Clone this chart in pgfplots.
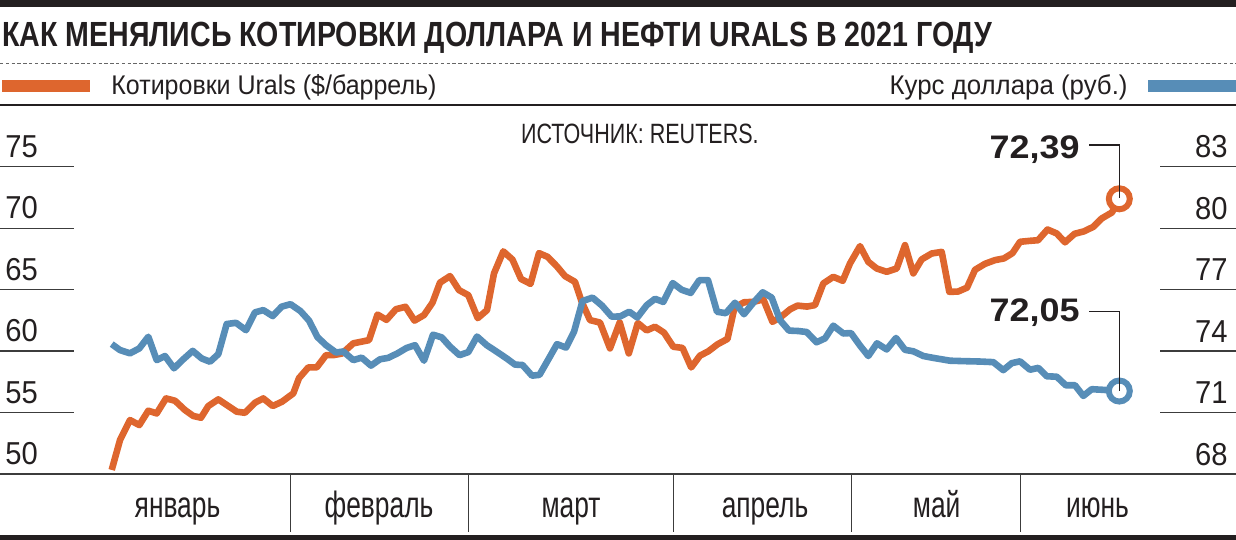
\documentclass[border=0pt]{standalone}
\usepackage{fontspec}
\setmainfont{Liberation Sans}
\usepackage{graphicx}
\usepackage{pgfplots}
\pgfplotsset{compat=1.18}

\definecolor{oil}{RGB}{222,102,46}
\definecolor{usd}{RGB}{87,141,183}
\definecolor{ink}{RGB}{35,31,32}
\definecolor{rule}{RGB}{60,60,60}

% text squeezed to a given width, natural height kept
\newcommand\fitw[3]{\resizebox{#1}{\height}{\fontsize{#2}{#2}\selectfont #3}}
\newcommand\digits[1]{\scalebox{0.92}[1]{\fontsize{15.85pt}{15.85pt}\selectfont #1}}
\newcommand\mlab[1]{\scalebox{0.72}[1]{\fontsize{18.3pt}{18.3pt}\selectfont #1}}

\pgfplotsset{
  base/.style={
    at={(0pt,-237pt)}, anchor=south west,
    width=618pt, height=153.65pt, scale only axis,
    xmin=0, xmax=1236,
    axis line style={draw=none},
    xtick=\empty,
    tick align=inside,
    tick style={draw=rule, line width=0.65pt},
    /pgf/number format/assume math mode=true,
    clip=false,
  },
}

\begin{document}
\begin{tikzpicture}
\useasboundingbox (0,0) rectangle (618pt,-270pt);

% header, 1 unit = 1 px of the reference
\begin{scope}[x=0.5pt,y=-0.5pt]
\fill[ink] (0,0) rectangle (1236,6.7);
\node[anchor=base west, inner sep=0pt, text=ink] at (2,46.7)
  {\fitw{495pt}{17.46pt}{\bfseries КАК МЕНЯЛИСЬ КОТИРОВКИ ДОЛЛАРА И НЕФТИ URALS В 2021 ГОДУ}};
\draw[black!60, line width=0.5pt, dash pattern=on 1.7pt off 1.2pt] (0,63.3) -- (1236,63.3);
\fill[oil] (2,80) rectangle (90,92);
\node[anchor=base west, inner sep=0pt, text=ink] at (111,94.3)
  {\fitw{162.5pt}{13.5pt}{Котировки Urals (\$/баррель)}};
\node[anchor=base east, inner sep=0pt, text=ink] at (1128,94.3)
  {\fitw{119pt}{13.5pt}{Курс доллара (руб.)}};
\fill[usd] (1148,80) rectangle (1236,92);
\draw[ink, line width=1pt] (0,105) -- (1236,105);
\node[anchor=base west, inner sep=0pt, text=ink] at (520.7,143.3)
  {\fitw{118.8pt}{13.97pt}{ИСТОЧНИК: REUTERS.}};
\fill[ink] (0,535) rectangle (1236,540);
\end{scope}

% Urals, $/barrel (left scale)
\begin{axis}[base,
  ymin=50, ymax=75, ytick={50,55,...,75}, ytick pos=left, yticklabel pos=left,
  major tick length=37pt,
  yticklabel={\digits{\pgfmathprintnumber{\tick}}},
  yticklabel style={anchor=base west, inner sep=0pt, xshift=2.5pt, yshift=4.75pt, text=ink}]
\addplot[oil, line width=3.3pt, line join=round] coordinates {
(111.7,50.33) (120,52.76) (130,54.39) (139.3,53.98) (148.3,55.15) (156.7,54.93)
(166,56.15) (175,55.96) (185,55.20) (193.3,54.72) (201,54.58) (208.3,55.53)
(218.3,56.07) (228.3,55.53) (236.7,55.07) (245,54.98) (255,55.80) (263.3,56.15)
(272.7,55.53) (282,55.88) (293.3,56.56) (299,57.80) (308.3,58.67) (316.7,58.67)
(326,59.67) (333.3,59.67) (342,59.80) (353.3,60.63) (369,60.89) (377.5,62.97)
(386.5,62.54) (396,63.41) (405.5,63.60) (414.5,62.48) (424,62.93) (432.5,63.94)
(440,65.57) (450,66.10) (459,64.96) (468.3,64.55) (477.7,62.68) (487,63.33)
(494,66.32) (503.3,68.11) (512.5,67.44) (521,65.87) (530.5,65.47) (539,67.97)
(547.5,67.67) (556.7,66.91) (565,66.10) (575,65.63) (581.7,64.01) (590,62.52)
(600,62.32) (610,60.22) (619.7,62.33) (628.8,59.81) (637.8,62.28) (646.7,61.68)
(655,61.98) (664,61.50) (673.3,60.35) (682.5,60.26) (691.2,58.67) (700,59.63)
(708.3,59.98) (717.5,60.55) (727.5,60.99) (734.5,63.54) (744,63.97) (754,64.01)
(763.3,64.21) (772.5,62.38) (781.5,62.82) (790,63.39) (797.5,63.70) (807,63.62)
(815,63.74) (823.3,65.50) (833.3,66.04) (842.7,65.72) (850,67.13) (860,68.54)
(868.3,67.26) (876.7,66.72) (886.7,66.45) (896.7,66.72) (905,68.62) (913.3,66.32)
(921.7,67.46) (931.7,67.94) (941.7,68.07) (949.3,64.82) (958,64.84) (967,65.16)
(975,66.61) (985,67.10) (995,67.40) (1004,67.54) (1012.5,67.97) (1020,68.89)
(1030,68.97) (1038,69.02) (1047.5,69.89) (1056.7,69.57) (1065,68.85) (1074.5,69.54)
(1084,69.74) (1093.3,70.11) (1101.7,70.79) (1112,71.28) (1119.3,72.39)
};
\addplot[only marks, mark=*, mark size=5.25pt,
  mark options={draw=oil, fill=white, line width=3pt}] coordinates {(1119.3,72.39)};
\end{axis}

% USD, rub. (right scale)
\begin{axis}[base,
  ymin=68, ymax=83, ytick={68,71,...,83}, ytick pos=right, yticklabel pos=right,
  major tick length=38pt,
  yticklabel={\digits{\pgfmathprintnumber{\tick}}},
  yticklabel style={anchor=base east, inner sep=0pt, xshift=-4pt, yshift=4.5pt, text=ink}]
\addplot[usd, line width=3.3pt, line join=round] coordinates {
(111.7,74.34) (120,74.05) (130,73.89) (139.3,74.13) (148.3,74.70) (156.7,73.56)
(165,73.76) (174,73.16) (183.3,73.60) (192.7,74.01) (201.7,73.64) (210,73.48)
(218.3,73.85) (226.7,75.32) (236,75.38) (246,75.02) (255,75.89) (263.3,76.00)
(272.7,75.71) (281.7,76.17) (290.5,76.29) (300.5,75.95) (309,75.49) (317.5,74.68)
(326,74.29) (336,73.93) (343.3,73.98) (353.3,73.56) (361.7,73.68) (371,73.29)
(380,73.60) (388.3,73.67) (397.5,73.89) (406.5,74.15) (415,74.29) (424,73.53)
(433,74.80) (441.7,74.67) (450,74.22) (459.5,73.80) (468.3,73.95) (477,74.71)
(486.7,74.29) (496.7,73.97) (506.7,73.64) (515,73.34) (522.5,73.32) (532,72.80)
(539.5,72.84) (548.3,73.59) (557,74.34) (566,74.17) (574,74.94) (582.5,76.44)
(592.5,76.61) (602,76.22) (611.7,75.68) (620,75.69) (629.3,75.92) (637.3,75.64)
(646.7,76.24) (655,76.55) (663.3,76.40) (672.7,77.32) (681.7,76.99) (690.7,76.84)
(699.3,77.46) (708,77.46) (717,75.92) (725.8,75.85) (735,76.36) (744,75.80)
(753.3,76.36) (762.7,76.87) (771.7,76.61) (780,75.51) (789,75.00) (798.3,74.98)
(806.7,74.93) (816.5,74.43) (825,74.62) (833.3,75.24) (843.3,74.86) (851,74.88)
(860,74.27) (868.3,73.76) (877,74.38) (886.7,74.08) (896,74.64) (905,74.06)
(913.3,73.99) (923.3,73.76) (933,73.67) (950,73.53) (963,73.51) (980,73.49)
(993.3,73.46) (1003.3,73.07) (1011.7,73.41) (1020,73.50) (1030,73.09) (1038.3,73.18)
(1046.7,72.77) (1056.7,72.75) (1065.8,72.33) (1075,72.33) (1083.3,71.81) (1091.7,72.14)
(1102.5,72.11) (1111.7,72.08) (1119.3,72.05)
};
\addplot[only marks, mark=*, mark size=5.25pt,
  mark options={draw=usd, fill=white, line width=3pt}] coordinates {(1119.3,72.05)};
\end{axis}

% month strip under the chart
\begin{axis}[
  at={(0pt,-265.85pt)}, anchor=south west,
  width=618pt, height=28.85pt, scale only axis,
  xmin=0, xmax=1236, ymin=0, ymax=1,
  axis line style={draw=none}, ytick=\empty,
  xtick={177.5,379,571,765,936.7,1097.5},
  xticklabels={\mlab{январь},\mlab{февраль},\mlab{март},\mlab{апрель},\mlab{май},\mlab{июнь}},
  major tick length=0pt, tick style={draw=none},
  xticklabel style={anchor=base, inner sep=0pt, yshift=7.2pt, text=ink},
  extra x ticks={290.7,468.7,673.7,851.7,1020.7}, extra x tick labels={},
  extra x tick style={grid=major},
  major grid style={draw=rule, line width=0.65pt}]
\end{axis}

% baseline and end-value callouts
\begin{scope}[x=0.5pt,y=-0.5pt]
\draw[rule, line width=1pt] (0,474) -- (1236,474);
\draw[ink, line width=0.55pt] (1089.3,145) -- (1119.3,145) -- (1119.3,198.3);
\node[anchor=base east, inner sep=0pt, text=ink] at (1080,158.3)
  {\fitw{45pt}{16.3pt}{\bfseries 72,39}};
\draw[ink, line width=0.55pt] (1089.3,311.7) -- (1119.3,311.7) -- (1119.3,391);
\node[anchor=base east, inner sep=0pt, text=ink] at (1080,321.7)
  {\fitw{45pt}{16.3pt}{\bfseries 72,05}};
\end{scope}
\end{tikzpicture}
\end{document}
